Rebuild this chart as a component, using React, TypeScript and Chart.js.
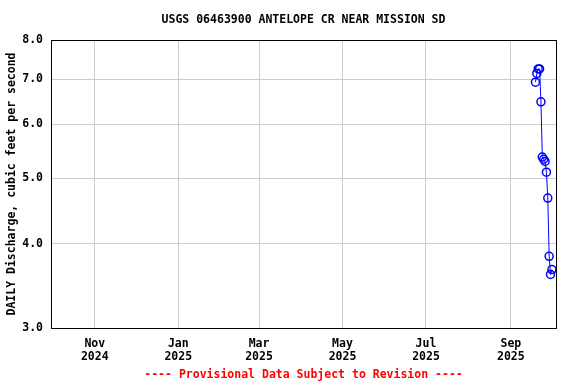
import React, { useEffect, useRef } from "react";
import { Chart, registerables } from "chart.js";

Chart.register(...registerables);

const TITLE = "USGS 06463900 ANTELOPE CR NEAR MISSION SD";
const Y_TITLE = "DAILY Discharge, cubic feet per second";
const FOOTER = "---- Provisional Data Subject to Revision ----";

const dates = [
  "2025-09-19", "2025-09-20", "2025-09-21", "2025-09-22", "2025-09-23",
  "2025-09-24", "2025-09-25", "2025-09-26", "2025-09-27", "2025-09-28",
  "2025-09-29", "2025-09-30", "2025-10-01",
];
const discharge = [6.93, 7.14, 7.25, 7.25, 6.48, 5.37, 5.33, 5.29, 5.10, 4.67, 3.83, 3.60, 3.66];

const xStart = "2024-09-30";
const xEnd = "2025-10-04";
const xTickDates = ["2024-11-01", "2025-01-01", "2025-03-01", "2025-05-01", "2025-07-01", "2025-09-01"];
const xTickLabels = [
  ["Nov", "2024"], ["Jan", "2025"], ["Mar", "2025"],
  ["May", "2025"], ["Jul", "2025"], ["Sep", "2025"],
];
const yTicks = [3, 4, 5, 6, 7, 8];

const dayNum = (s: string) => {
  const [y, m, d] = s.split("-").map(Number);
  return (Date.UTC(y, m - 1, d) - Date.UTC(2024, 8, 30)) / 86400000;
};

const FONT = "'DejaVu Sans Mono', monospace";
const FONT_CSS = `bold 11.5px ${FONT}`;

const frame = {
  id: "frame",
  afterDraw(chart: any) {
    const { ctx, chartArea: a } = chart;
    ctx.save();
    ctx.strokeStyle = "#000";
    ctx.lineWidth = 1;
    ctx.strokeRect(Math.round(a.left) + 0.5, Math.round(a.top) + 0.5, Math.round(a.right - a.left), Math.round(a.bottom - a.top));
    const cx = (a.left + a.right) / 2;
    ctx.font = FONT_CSS;
    ctx.textAlign = "center";
    ctx.textBaseline = "middle";
    ctx.fillStyle = "#000";
    ctx.fillText(TITLE, cx, 20);
    ctx.fillStyle = "#ff0000";
    ctx.fillText(FOOTER, cx, 375);
    ctx.restore();
  },
};

export default function App() {
  const ref = useRef<HTMLCanvasElement>(null);
  useEffect(() => {
    document.body.style.margin = "0";
    const xTickVals = xTickDates.map(dayNum);
    const chart = new Chart(ref.current!, {
      type: "line",
      data: {
        datasets: [
          {
            data: dates.map((d, i) => ({ x: dayNum(d), y: discharge[i] })),
            borderColor: "#0000ff",
            borderWidth: 1,
            pointRadius: 4,
            pointBorderColor: "#0000ff",
            pointBackgroundColor: "rgba(0,0,0,0)",
            pointBorderWidth: 1.5,
            tension: 0,
          },
        ],
      },
      plugins: [frame],
      options: {
        animation: false,
        responsive: false,
        devicePixelRatio: 1,
        layout: { padding: { left: 0, right: 20, top: 40, bottom: 19.8 } },
        plugins: {
          legend: { display: false },
          tooltip: { enabled: false },
          title: { display: false },
        },
        scales: {
          x: {
            type: "linear",
            min: dayNum(xStart),
            max: dayNum(xEnd),
            afterBuildTicks: (axis: any) => {
              axis.ticks = xTickVals.map((v) => ({ value: v }));
            },
            afterFit: (scale: any) => {
              scale.height = 36.2;
            },
            ticks: {
              autoSkip: false,
              maxRotation: 0,
              minRotation: 0,
              padding: 10,
              color: "#000",
              font: { family: FONT, size: 11.5, weight: "bold", lineHeight: 1.1 },
              callback: (v: any) => {
                const i = xTickVals.indexOf(Number(v));
                return i >= 0 ? xTickLabels[i] : "";
              },
            },
            grid: { color: "#cccccc", drawTicks: false, lineWidth: 1 },
            border: { display: false },
          },
          y: {
            type: "logarithmic",
            min: 3,
            max: 8,
            afterBuildTicks: (axis: any) => {
              axis.ticks = yTicks.map((v) => ({ value: v }));
            },
            afterFit: (scale: any) => {
              scale.width = 51;
            },
            ticks: {
              autoSkip: false,
              padding: 8,
              color: "#000",
              font: { family: FONT, size: 11.5, weight: "bold" },
              callback: (v: any) => Number(v).toFixed(1),
            },
            grid: { color: "#cccccc", drawTicks: false, lineWidth: 1 },
            border: { display: false },
            title: {
              display: true,
              text: Y_TITLE,
              color: "#000",
              font: { family: FONT, size: 11.5, weight: "bold", lineHeight: 1.2 },
              padding: { top: 5, bottom: 0 },
            },
          },
        },
      },
    } as any);
    return () => chart.destroy();
  }, []);
  return <canvas ref={ref} width={576} height={384} style={{ display: "block" }} />;
}
